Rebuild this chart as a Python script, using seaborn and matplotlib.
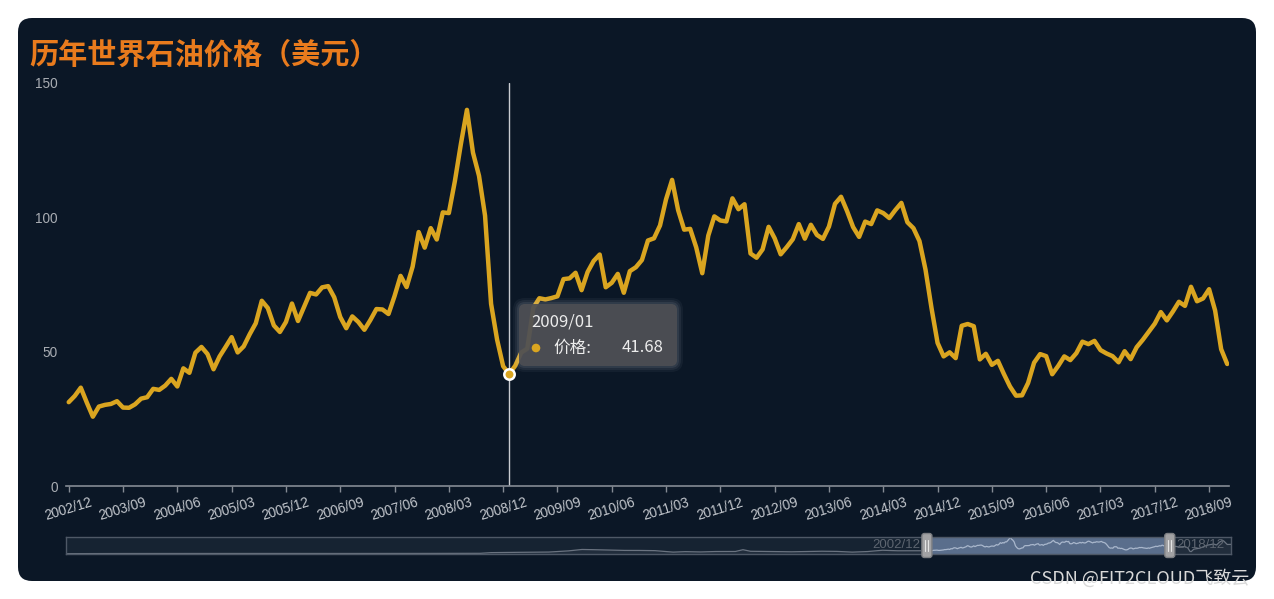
import numpy as np
import pandas as pd
import matplotlib
matplotlib.use("Agg")
import matplotlib.pyplot as plt
import seaborn as sns
from matplotlib.patches import FancyBboxPatch, Rectangle, Circle

# ---------------- data ----------------
start_year, start_month = 2002, 12
prices = [
    31.20,
    33.51, 36.60, 31.04, 25.80, 29.56, 30.19, 30.54, 31.57, 29.20, 29.11, 30.41, 32.52,
    33.05, 36.16, 35.76, 37.38, 39.88, 37.05, 43.80, 42.12, 49.64, 51.76, 49.13, 43.45,
    48.20, 51.75, 55.40, 49.72, 51.97, 56.50, 60.57, 68.94, 66.24, 59.76, 57.32, 61.04,
    67.92, 61.41, 66.63, 71.88, 71.29, 73.93, 74.40, 70.26, 62.91, 58.73, 63.13, 61.05,
    58.14, 61.79, 65.87, 65.71, 64.01, 70.68, 78.21, 74.04, 81.66, 94.53, 88.71, 95.98,
    91.75, 101.84, 101.58, 113.46, 127.35, 140.00, 124.08, 115.46, 100.64, 67.81, 54.43, 44.60,
    41.68, 44.76, 49.66, 51.12, 66.31, 69.89, 69.45, 69.96, 70.61, 77.00, 77.28, 79.36,
    72.89, 79.66, 83.76, 86.15, 73.97, 75.63, 78.95, 71.92, 79.97, 81.43, 84.11, 91.38,
    92.19, 96.97, 106.72, 113.93, 102.70, 95.42, 95.70, 88.81, 79.20, 93.19, 100.36, 98.83,
    98.48, 107.07, 103.02, 104.87, 86.53, 84.96, 88.06, 96.47, 92.19, 86.24, 88.91, 91.82,
    97.49, 92.05, 97.23, 93.46, 91.97, 96.56, 105.03, 107.65, 102.33, 96.38, 92.72, 98.42,
    97.49, 102.59, 101.58, 99.74, 102.71, 105.37, 98.17, 95.96, 91.16, 80.54, 66.15, 53.27,
    48.24, 49.76, 47.60, 59.63, 60.30, 59.47, 47.12, 49.20, 45.09, 46.59, 41.65, 37.04,
    33.62, 33.75, 38.34, 45.92, 49.10, 48.33, 41.60, 44.70, 48.24, 46.86, 49.44, 53.72,
    52.81, 54.01, 50.60, 49.33, 48.32, 46.04, 50.17, 47.23, 51.67, 54.38, 57.40, 60.42,
    64.73, 61.64, 64.94, 68.57, 67.04, 74.15, 68.76, 69.80, 73.25, 65.31, 50.93, 45.41,
]
months = []
for k in range(len(prices)):
    m = start_month - 1 + k
    months.append(f"{start_year + m // 12}/{m % 12 + 1:02d}")

tick_step = 9
hover_label = "2009/01"
series_name = "价格"
title = "历年世界石油价格（美元）"
y_ticks = [0, 50, 100, 150]

# dataZoom background shadow (full history outside the window, read from the strip)
shadow_pre_years = [1946.2, 1948, 1950, 1955, 1960, 1965, 1970, 1973.5, 1974.2, 1976, 1978,
                    1979.3, 1980.2, 1981, 1982, 1983, 1984, 1985, 1986.2, 1987, 1988, 1989,
                    1990.3, 1990.8, 1991.3, 1992, 1994, 1996, 1997, 1998, 1999, 2000, 2001, 2002.5]
shadow_pre_values = [1.2, 2.0, 2.6, 2.9, 3.0, 2.9, 3.4, 4.3, 10.1, 12.7, 15.0,
                     25.0, 37.0, 35.0, 32.0, 29.0, 28.7, 27.0, 14.4, 18.5, 15.9, 19.6,
                     20.0, 35.0, 21.5, 20.6, 17.2, 22.0, 20.6, 14.4, 19.3, 30.4, 25.9, 26.1]
shadow_post_years = [2019.1, 2019.3, 2019.5, 2019.9, 2020.1, 2020.25, 2020.33, 2020.5, 2020.9,
                     2021.4, 2021.8, 2022.0, 2022.2, 2022.4, 2022.5, 2022.7, 2022.95]
shadow_post_values = [53.8, 63.9, 58.5, 61.1, 51.6, 20.5, 18.8, 39.3, 48.5,
                      73.5, 83.6, 75.2, 100.3, 114.7, 105.8, 79.5, 80.3]
zoom_start_label = "2002/12"
zoom_end_label = "2018/12"

# ---------------- style ----------------
W, H = 1274, 599
CARD = "#0b1726"
LINE = "#daa520"
TITLE_C = "#e97b1d"
AXIS_C = "#858b94"
CJK = ["Noto Sans CJK SC", "DejaVu Sans"]
LAT = ["Liberation Sans", "DejaVu Sans"]

sns.set_theme(style="dark")
plt.rcParams["font.family"] = CJK
plt.rcParams["axes.unicode_minus"] = False

fig = plt.figure(figsize=(W / 100, H / 100), dpi=100, facecolor="white")

# card background
bg = fig.add_axes([0, 0, 1, 1], zorder=-2)
bg.set_xlim(0, W); bg.set_ylim(H, 0); bg.axis("off")
bg.add_patch(FancyBboxPatch((18, 18), 1238, 563, boxstyle="round,pad=0,rounding_size=14",
                            fc=CARD, ec="none"))
bg.text(29, 55, title, color=TITLE_C, fontsize=21, fontweight="bold", va="center",
        ha="left", family=CJK)

# ---------------- main chart ----------------
px_left, px_right, px_top, px_bot = 66, 1229, 83, 486
ax = fig.add_axes([px_left / W, (H - px_bot) / H, (px_right - px_left) / W, (px_bot - px_top) / H],
                  zorder=1)
ax.patch.set_alpha(0)
df = pd.DataFrame({"idx": np.arange(len(prices)), "price": prices, "month": months})
sns.lineplot(data=df, x="idx", y="price", ax=ax, color=LINE, linewidth=3.2,
             solid_capstyle="round", solid_joinstyle="round", zorder=3)

n = len(prices)
ax.set_xlim(-0.45, n - 1 + 0.3)
ax.set_ylim(0, 150)
ticks = list(range(0, n, tick_step))
ax.set_xticks(ticks)
ax.set_xticklabels([months[t] for t in ticks], rotation=17, ha="center", va="top",
                   color="#c3c7cd", fontsize=9.8, family=LAT)
ax.set_yticks(y_ticks)
ax.set_yticklabels([str(v) for v in y_ticks], color="#a9adb3", fontsize=9.8, family=LAT)
ax.tick_params(axis="x", length=4, width=1, color=AXIS_C, pad=2.5, direction="out", bottom=True)
ax.tick_params(axis="y", length=0, pad=6)
ax.set_xlabel(""); ax.set_ylabel("")
ax.grid(False)
for s in ["top", "right", "left"]:
    ax.spines[s].set_visible(False)
ax.spines["bottom"].set_color(AXIS_C)
ax.spines["bottom"].set_linewidth(1.2)

# axis pointer + highlighted point
hi = months.index(hover_label)
ax.axvline(hi, color="#c9ccd1", lw=1, zorder=2)
ax.plot([hi], [prices[hi]], marker="o", ms=7.5, mfc=LINE, mec="white", mew=1.8, zorder=6,
        clip_on=False)

# ---------------- dataZoom slider ----------------
sx0, sx1, sy0, sy1 = 66, 1231, 537, 554
sl = fig.add_axes([sx0 / W, (H - sy1) / H, (sx1 - sx0) / W, (sy1 - sy0) / H], zorder=1)
sl.set_facecolor("#162332")
years_main = [start_year + (start_month - 1) / 12 + k / 12 for k in range(n)]
full_x = shadow_pre_years + years_main + shadow_post_years
full_y = shadow_pre_values + prices + shadow_post_values
sl.set_xlim(shadow_pre_years[0], shadow_post_years[-1])
sl.set_ylim(-1.5, 143)
sl.fill_between(full_x, full_y, -1.5, color="#2a3544", alpha=0.6, lw=0)
sns.lineplot(x=shadow_pre_years, y=shadow_pre_values, ax=sl, color="#6a7380", lw=0.9)
sns.lineplot(x=shadow_post_years, y=shadow_post_values, ax=sl, color="#6a7380", lw=0.9)
sl.axvspan(years_main[0], years_main[-1], color="#5a6e8c", alpha=1.0, lw=0, zorder=1)
sns.lineplot(x=years_main, y=prices, ax=sl, color="#a9b7cc", lw=0.9, zorder=2)
sl.set_xticks([]); sl.set_yticks([])
sl.set_xlabel(""); sl.set_ylabel("")
for s in sl.spines.values():
    s.set_color("#4e5866"); s.set_linewidth(1)

# ---------------- overlay (tooltip, handles, labels) ----------------
ov = fig.add_axes([0, 0, 1, 1], zorder=5)
ov.set_xlim(0, W); ov.set_ylim(H, 0); ov.axis("off"); ov.patch.set_alpha(0)

fig.canvas.draw()
def slider_px(year):
    dx, _ = sl.transData.transform((year, 0))
    return dx

# tooltip
tx0, ty0, tw, th = 519, 304, 158, 62
for k, a in [(6, 0.05), (4, 0.07), (2, 0.09)]:
    ov.add_patch(FancyBboxPatch((tx0 - k, ty0 - k), tw + 2 * k, th + 2 * k,
                                boxstyle=f"round,pad=0,rounding_size={6 + k}",
                                fc="#cfd3da", ec="none", alpha=a))
ov.add_patch(FancyBboxPatch((tx0, ty0), tw, th, boxstyle="round,pad=0,rounding_size=6",
                            fc="#4d4e53", ec="none", alpha=0.93))
ov.text(531, 322, months[hi], color="#ececec", fontsize=12, va="center", ha="left", family=CJK)
ov.add_patch(Circle((536, 348), 4.3, fc=LINE, ec="none"))
ov.text(553, 348, series_name + ":", color="#ececec", fontsize=12, va="center", ha="left",
        family=CJK)
ov.text(663, 348, f"{prices[hi]:.2f}", color="#ececec", fontsize=12, va="center", ha="right",
        family=CJK)

# slider handles and labels
hx0 = slider_px(years_main[0])
hx1 = slider_px(years_main[-1])
for hx in (hx0, hx1):
    ov.add_patch(FancyBboxPatch((hx - 5, 533.5), 10, 24, boxstyle="round,pad=0,rounding_size=2.5",
                                fc="#a2a2a4", ec="#7d7f83", lw=1))
    for dx in (-1.5, 1.5):
        ov.plot([hx + dx, hx + dx], [540, 551], color="#e4e4e4", lw=0.8)
ov.text(hx0 - 7, 545.5, zoom_start_label, color="#5d6570", fontsize=9.5, va="center", ha="right",
        family=LAT)
ov.text(hx1 + 7, 545.5, zoom_end_label, color="#5d6570", fontsize=9.5, va="center", ha="left",
        family=LAT)

# watermark
ov.text(1030, 578, "CSDN @FIT2CLOUD飞致云", color="#d9d9d9", fontsize=13, va="center",
        ha="left", family=["Noto Sans CJK SC", "DejaVu Sans"])

fig.savefig("out.png", dpi=100, facecolor="white")
